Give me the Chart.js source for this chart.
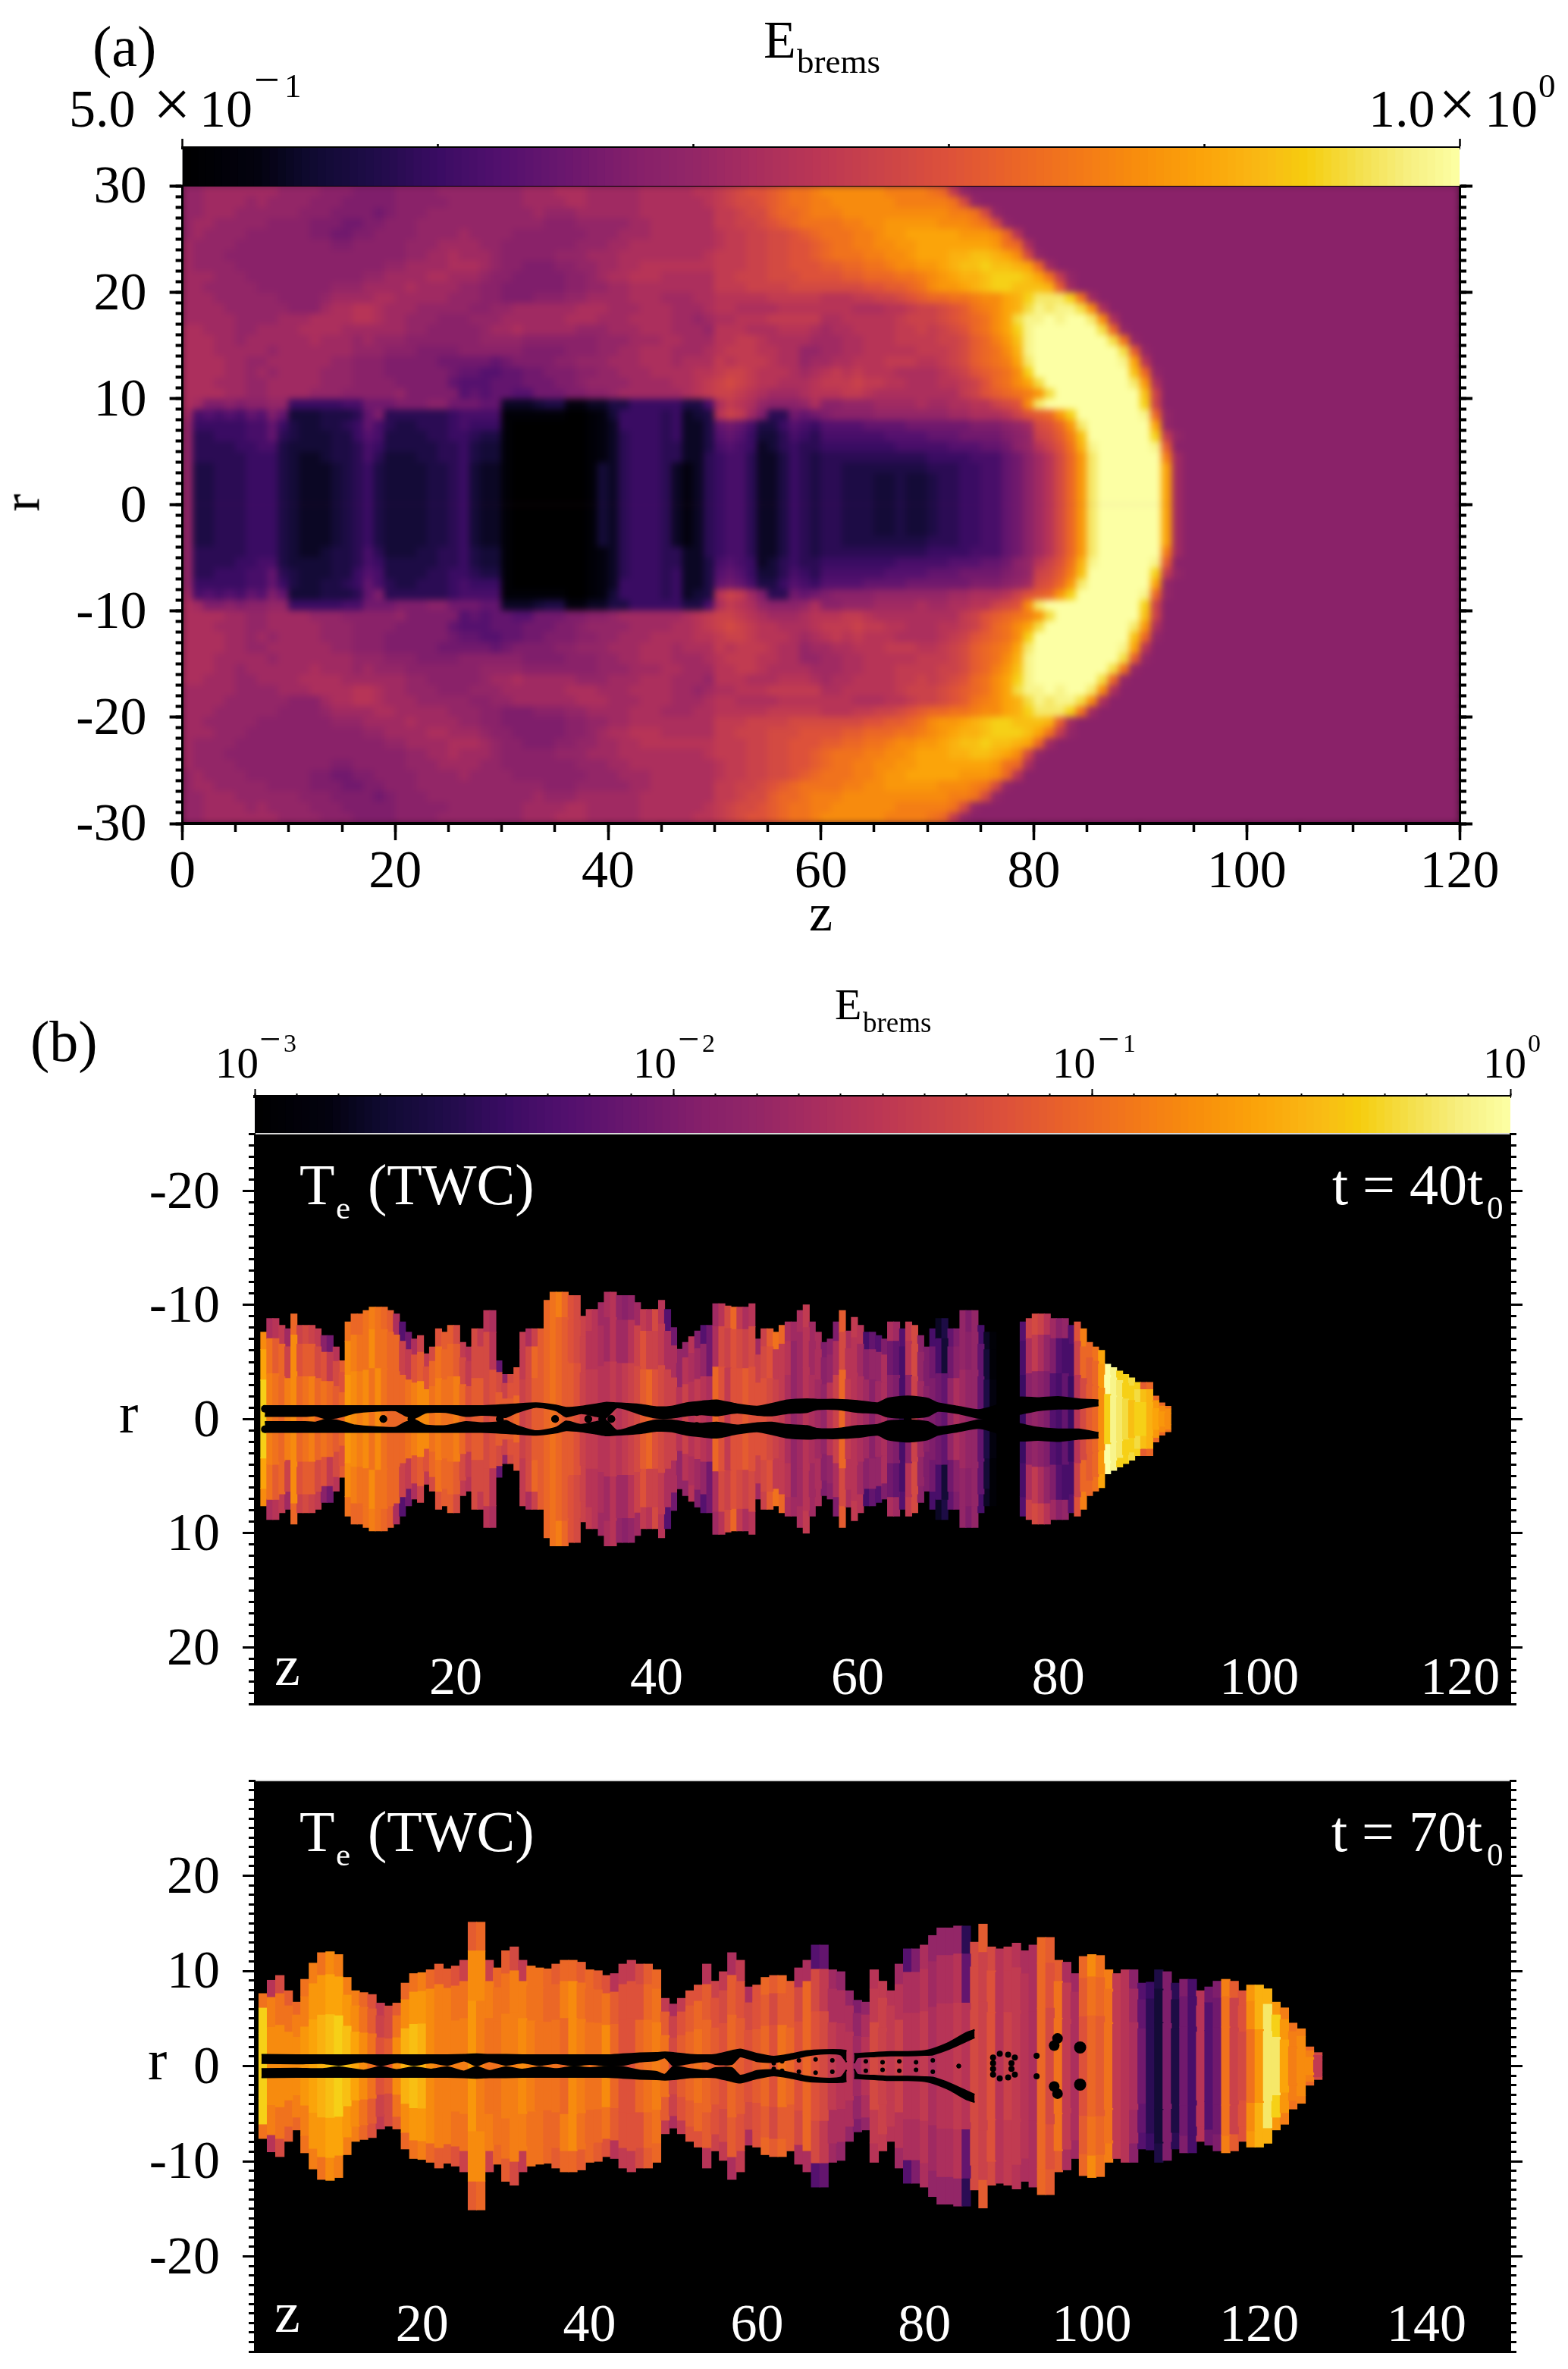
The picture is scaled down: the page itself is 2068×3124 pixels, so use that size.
<!DOCTYPE html>
<html>
<head>
<meta charset="utf-8">
<title>Ebrems</title>
<script src="https://cdn.jsdelivr.net/npm/chart.js@4/dist/chart.umd.js"></script>
<style>
html, body { margin: 0; padding: 0; background: #fff; }
#page { position: relative; width: 2068px; height: 3124px; overflow: hidden; }
#page canvas { position: absolute; left: 0; }
.txt { position: absolute; line-height: 0; white-space: nowrap; font-family: "Liberation Serif", serif; z-index: 5; }
</style>
</head>
<body>
<div id="page"></div>
<script>

// panel (a): rows from r = 29.5 down to r = 0.5, one cell per unit of z, the rest of each row is background
const fieldARows = [
  "eefffffffe eeedddcccc ddddeeeeee eefffgggff fffggggghh ijkllmnoop qqqqqqpppp onied",
  "eeffffefee eedddccccc dddddeeeee eeffffggff fffggggggh ijkklmnoop pqqqqqqppp ppoked",
  "eefffeeeee edddccccbc dddeeeeeee eeefeeefff fffggggggg iijkkmnnop ppqqqqqqqq qqppoked",
  "effeeeeedd ddcccbbccd ddeeeeeeee eeeedddeee eeffgggggg iijjklmnoo ooppqqrrrr rqqqpoked",
  "efeeeedddd ddccbbccdd ddeeeefeee edddddddee efffgggggg hiijjkklmn oooppqrrss sssrrrqnhd",
  "feeeeddddd ddddccdddd deeeffffee dddddddeee ffgggggggg hiijjkkllm nooppqqrrs ssssssrong d",
  "feeedddddd dddddddddd deeffgfffe dddddeeeff fggggggggh iiijjkkllm noooppqqrs ssttuutsqk ed",
  "feeeeddddd ddddddddde effffgggfe ddcccddeef fgghhhhhhh iiijjkklll mmnnoopqqr rstuuvuuts nfd",
  "fffeeedddd dddddddeef fffggfffed dcccccddef gghhhggggg iijjjkkkll llmmnnnoop qrsttuvvvu soied",
  "ffeeeeeddd ddddeeefff fgffffeedd ccccccddee ffgggggggg iiijjjjkkk kkkkllmmno qrrstuvvuu utmfd",
  "fffeeeeeed dddeffffgg fffffeeedd cccdddeeff ffgggfffgg hhhhhiiiii hhhiijjklm nnoopqqstv xxxvofd",
  "ffffeeeeee dddfgghhgf ffeeeeedde effffffggg fffgggfffg hhgggghhhh hhhggghhij jklmopqstw yxyywqgd",
  "fffffeeeef ffgggghhgf feeedddeee ffffffgggf ffggggffef gghhhiiiii gghhhhhijj jklmnoqswy yzyzzxqgdd",
  "ggfffeefff fggggfffff feedddddef fgfffffeee fffgggfffe hhhggghhhg fgghhhhiij ijklnoqsvy zzzzzzwned",
  "gggffeffff ffgfffefee edddddddee eeddddddde eefffggfff hhiihggggf ffgghhhiii ijjkmnpruy zzzzzzzwoe d",
  "gggfffffef ffffffeeed ddccccdddd ddccccddde effgggfffg hiiihhggee ffgghhhhhi iijkmnoqty zzzzzzzzwm ed",
  "ggggffeeff ffffeedddc ccccbbbbba bccccddeee fffgggfggg ihiiihggef fgghhhiiih hijkmnopsx zzzzzzzzys hd",
  "ggggffefef fffeeedddc cccccbaa99 aabbcccdde efffgggghh ijjihhhgfg hihihhhggg ghijlmnoqv zzzzzzzzzu ned",
  "gggfffeeff fffeeedddd ccccca999a aabbbccdee eeffffgghi jkjihhgggh iiijiihhgg ghhijlnoqs wzzzzzzzzx rgd",
  "ggggffeeff ffeeeddddd eccccc9a9a a99bbbccdd effffffghi jjihgfffgh hhiihggggg gggijlmnop rwzzzzzzzz ujd",
  "gfccdcddee 7777788bbb cccddbbbaa 3334552233 5577777558 gihgedddeg ddeeeffffg ffgghhjklq xzzzzzzzzz vjd",
  "f89898a9ca 4445556ac6 6666678888 1111110012 4777767345 hjifc66bab cddddeeeee eeffggghjl mnrvzzzzzz yned",
  "e7777788a7 5445567a86 5566678777 1000000012 3777767335 aba8557987 9999aaaabb bbbbcccdef klnrxzzzzz zsed",
  "e6677788a6 5444557985 5556677655 1000000012 3677767335 9a97446876 8888889999 aaabbbbcde jkmpuzzzzz zvied",
  "e666677885 4444556875 5555667544 1000000012 3677766335 8987346766 7777777888 88999aabde hjlotyzzzz zymd",
  "e666667775 4334556864 4455667544 1000000012 3677766336 7886335765 6666666666 7777888abd fhknrxzzzz zzpfd",
  "e556667775 4333456754 4445567433 1000000014 3677763236 7886335765 6655555555 6667788abd fhknrxzzzz zzsfd",
  "e556667775 4333456754 4445567433 1000000014 3677763236 7886335765 6655544544 5667788abd fhknrxzzzz zzsfd",
  "e556667775 4333456754 4445567433 1000000014 3677763236 7886335765 6655544544 5667788abd fhknrxzzzz zzsfd",
  "e556667775 4333456754 4445567433 1000000014 3677763236 7886335765 6655544544 5667788abd fhknrxzzzz zzsfd"
];

// panel (b) t = 40: half height of each column (columns are 0.6 wide, starting at z = 0.6)
const heights40 = [
  7.6,8.8,8.8,8.2,7.9,9.2,8.2,8.2,8.2,7.9,
  7.3,7.3,6.3,5.1,8.5,9.2,9.2,9.5,9.8,9.8,
  9.8,9.5,9.2,8.5,7.6,7,7.3,5.7,6.3,7.9,
  7.6,8.2,8.2,6.7,6.3,7.9,7.9,9.5,9.5,5.1,
  3.9,3.9,4.5,7.6,7.9,7.9,7.9,10.4,11.1,11.1,
  11.1,10.8,10.8,9,9.6,9.6,10.2,11.1,11.1,10.8,
  10.8,10.8,10.2,9.6,9.6,9.6,10.4,9.6,8,6.1,
  6.7,7.2,7.7,8.2,8.2,10.1,10.1,9.9,9.8,9.8,
  9.8,10.1,7,7.9,7.9,7.6,8.2,8.5,8.5,9.5,
  10,8.5,7.6,6.7,7,8.5,9.5,7.7,8.9,8.2,
  7.6,7.6,7.3,7,8.5,8.5,7.9,8.5,8.2,7.3,
  6.3,7.9,8.8,8.8,7.9,7.9,9.5,9.5,9.5,8.2,
  7.6,7.6,0,0,0,0,8.5,8.8,9.2,9.2,
  9.2,8.8,8.8,8.8,8.2,8.5,7.9,6.7,6.3,6,
  4.8,4.5,4.2,3.9,3.6,3.2,3.2,3.2,2,1.4,1.1
];
const core40 = "vponpqnopn onmnrqpqoq onnnopqqop oopnlmmklm mmnjkmmnon mmljiihhih ijkmnlkjjh jhihgnlill mlllkjigef hgfehjnihg fdfgdc8djf dcbaegfeea 5200007ded c98a7hkmnq vyxwuvvtsrq";
const mid40 = "somnjqlmmk liklqpooqo onnjilmlno nnmkikkkhk jlliknmnon mlkjhhgfhf fhjljjigge hgfebgkjlk jkjkliihef hfgdegkhhf deegba8hke cb84bdedea 4100008gig ec988jnmnr zyxvvwutrqq";
const edge40 = "qghifnjkji dbhmonnopo nmg9bgjikl mmkihkihga ekligjmnop nlkjihfghe defihkh9be ehc9bfhkni ghfjmongfg ifgcdcmgih 8a9cgf9ikd c835acece8 3100009jkj hfde9lpnos zyvvwvmnnno";

// black contours at t = 40
const filaZ40 = [1,5,6,7,8,9,10,12,14,15,16,17,19,21,22.5,24,25,26,28,30,31,32.5,34,35,36,37,38.5,40,41.5,43,44.5,46,48,50,51.5,53,55,56,58,60,62,63,65,67,68,70,72,73.5,76,78,80,82,84];
const filaOut40 = [1.15,1.15,1.15,1.15,1.15,1.15,1.15,1.15,1.15,1.15,1.15,1.15,1.15,1.15,1.15,1.2,1.25,1.3,1.4,1.2,1,1.1,1.3,1.45,1.4,1.35,1.25,1.05,1.1,1.4,1.55,1.65,1.3,1.1,1.35,1.65,1.75,1.7,1.7,1.6,1.4,1.8,2,1.8,1.4,1.1,0.8,1.1,1.9,1.85,1.95,1.75,1.65];
const filaIn40 = [0.25,0.25,0.3,0.05,0.1,0.3,0.55,0.7,0.75,0.3,0.12,0.55,0.6,0.25,0.35,0.3,0.15,0.55,1.05,0.75,0.2,0.5,0.25,0.15,1,0.85,0.4,0.1,0.1,0.3,0.4,0.3,0.55,0.35,0.3,0.5,0.6,0.85,0.85,0.6,0.5,0.2,0.1,0.25,0.7,0.5,0.1,0.05,0.4,0.75,0.9,0.9,1.2];
const dotZ40 = [12.8,15.6,24.4,29.9,33.2,34.6,35.5,39,41,44,46,64,65,66,1];
const dotR40 = [0,0,0,0,0,0,0,0.7,0.5,0.6,0.7,0.5,0,0.5,0.9];

// panel (b) t = 70: half height of each column (columns are 1 wide, centred on z = 1, 2, ...)
const heights70 = [
  7.6,9,9.5,7.9,6.7,9.1,10.8,11.9,12,11.7,
  9.3,7.9,7.7,7.5,6.6,6.3,6.6,8.7,9.7,9.8,
  10.1,10.7,10.2,10.5,11.1,15.1,15.1,11.1,10.3,12.1,
  12.5,11.1,10.5,10.3,10.2,10.7,11.1,11.1,10.9,10.1,
  10,9.5,9.7,10.7,11.1,10.7,10.7,10.1,7.1,6.5,
  7.1,7.9,8.5,10.7,8.9,9.9,11.9,11.1,8.3,8.5,
  9.3,9.5,9.5,8.9,10.3,11.1,12.7,12.7,10.1,9.9,
  7.9,6.9,6.7,10.1,8.9,7.9,10.7,12.3,12.3,12.7,
  13.7,14.5,14.5,14.7,14.7,13,14.9,12.5,12.3,12.5,
  12.9,12.1,12.7,13.5,13.5,11.1,10.9,9.7,11.5,11.7,
  11.6,10.1,9.7,10.1,10.1,8.7,8.8,10.1,9.9,8.7,
  9.1,9.1,7.9,8.3,8.9,9.1,8.9,7.9,8.5,8.5,
  8.1,6.7,6.1,4.5,3.9,2,1.4
];
const core70 = "vqqqqrstuv usqolmqtut qpppprpoop pqpooonqpo oqnllnopok mnonmlnmlm nlonlnlkih hfhkjijhhi ghhihkjlhj ihgnkoigln moihgb64c5 b8h9bojkor xxspqqi";
const mid70 = "vpoopprrss rqomjkoqrr qppooqqpoo ppoonnpqon nomlllnomj lmnmlkmlkl mkmmknkigg gegijihggh fgghakjlhi ihgnloigmo noihfa64c5 b8h9bojlqt xvrpqpi";
const edge70 = "ohkmnopoqp ppnlikmnop nmmljmnjnm kioonmnnmn mlhiikmnig illhjigigl nmnmgg9afe ecehihf9cg eeee6kmkhi hggnmmgfnq opihd975c6 c8hbcpmlrt trpopnk";

// black contours at t = 70, two stretches
const filaZ70 = [0.8,5,8,10,13,15,17,19,21,23,25,26.5,28,30,32,34,36,38,40,42,44,46,48,49,50,52,54,55,57,58,60,62,64,66,68,70,70.7];
const filaOut70 = [1.2,1.15,1.15,1.15,1.15,1.15,1.15,1.15,1.15,1.15,1.2,1.25,1.2,1.2,1.15,1.15,1.15,1.15,1.15,1.15,1.25,1.35,1.4,1.45,1.4,1.2,1.15,1.2,1.6,1.75,1.3,1,1.25,1.6,1.7,1.7,1.6];
const filaIn70 = [0.3,0.25,0.3,0.1,0.45,0.05,0.4,0.1,0.35,0.1,0.55,0.05,0.5,0.1,0.35,0.1,0.3,0.05,0.2,0.05,0.1,0.45,0.6,0.9,0.05,0.3,0.5,0.2,0.2,1,0.5,0.4,0.7,1.1,1.3,1.2,0.4];
const filaZ70b = [71.6,72,74,76,78,80,81,83,85,86];
const filaOut70b = [1.3,1.3,1.4,1.5,1.5,1.6,1.8,2.5,3.5,3.8];
const filaIn70b = [0.3,0.9,1,1.1,1.1,1.15,1.2,1.8,2.6,3];
const dotZ70 = [84.1,88.2,88.2,89,90,90.8,90.4,93.4,95.5,95.9,98.6,62,63,65,67,69,73,75,77,79,81];
const dotR70 = [0,0.9,0.3,1.3,1.2,0.9,0.3,1.07,2.15,2.9,1.95,0.3,0.5,0.6,0.7,0.6,0.5,0.4,0.5,0.4,0.6];
const blobR70 = [3,4,4,4,4,4,4,4,7,7,8,3,3,3,3,3,3,3,3,3,3];

// axis ticks
const zTicksA = [0,20,40,60,80,100,120];
const rTicksA = [-30,-20,-10,0,10,20,30];
const zTicks40 = [0,20,40,60,80,100,120];
const rTicks40 = [-20,-10,0,10,20];
const zTicks70 = [0,20,40,60,80,100,120,140];
const rTicks70 = [-20,-10,0,10,20];

// inferno-like map, sampled from the colour bar
const mapStops = [
  [0,"#000000"],[0.06,"#03020f"],[0.1,"#0f0a30"],[0.15,"#1f0c48"],[0.2,"#3a0c63"],[0.25,"#52106e"],
  [0.3,"#6a176e"],[0.357,"#86206a"],[0.4,"#932667"],[0.44,"#a52c60"],[0.5,"#bc3754"],[0.55,"#cc4448"],
  [0.6,"#dd513a"],[0.65,"#ea6428"],[0.7,"#f37819"],[0.75,"#f88e0c"],[0.8,"#fba40a"],[0.85,"#f9bb15"],
  [0.88,"#f6cd0e"],[0.92,"#f4df4a"],[0.96,"#f7ef80"],[1,"#fcffa4"]
];

function mapColor(f) {
  f = Math.max(0, Math.min(1, f));
  let i = 1;
  while (i < mapStops.length - 1 && mapStops[i][0] < f) i++;
  const a = mapStops[i - 1], b = mapStops[i];
  const t = (f - a[0]) / (b[0] - a[0]);
  const mix = s => {
    const p = parseInt(a[1].substr(s, 2), 16), q = parseInt(b[1].substr(s, 2), 16);
    return Math.round(p + (q - p) * t);
  };
  return `rgb(${mix(1)},${mix(3)},${mix(5)})`;
}

const levelColor = c => mapColor(parseInt(c, 36) / 35);
const clean = s => s.replace(/ /g, "");

function tickAxis(o) {
  return {
    type: "linear", axis: o.axis, position: o.pos, min: o.min, max: o.max, reverse: !!o.reverse,
    offset: false, weight: o.size ? 1 : 0,
    grid: { display: true, offset: false, drawOnChartArea: false, drawTicks: !!o.len, tickLength: o.len || 0, tickWidth: o.width || 3, tickColor: "#000" },
    border: { display: !!o.border, color: o.border, width: o.borderWidth || 3 },
    ticks: {
      display: !!o.font, autoSkip: false, maxRotation: 0, padding: o.pad || 0, mirror: !!o.mirror, z: 1,
      labelOffset: o.shift || 0,
      color: o.color || "#000", font: { family: '"Liberation Serif"', size: o.font || 12 },
      callback: v => (o.noZero && v === 0 ? "" : String(v))
    },
    afterBuildTicks: s => { s.ticks = o.values.map(v => ({ value: v })); },
    afterFit: s => {
      if (o.axis === "x") s.height = o.size || 0; else s.width = o.size || 0;
      s.paddingLeft = s.paddingRight = s.paddingTop = s.paddingBottom = 0;
    }
  };
}

const plotBackground = (color, whole) => ({
  id: "plotBackground",
  beforeDraw(chart) {
    const a = chart.chartArea;
    chart.ctx.fillStyle = color;
    if (whole) chart.ctx.fillRect(0, 0, chart.width, chart.height);
    else chart.ctx.fillRect(a.left, a.top, a.right - a.left, a.bottom - a.top);
  }
});

const page = document.getElementById("page");

function addChart(top, height, datasets, scales, plugin, cssExtra) {
  const canvas = document.createElement("canvas");
  canvas.width = 2068;
  canvas.height = height;
  canvas.style.top = top + "px";
  if (cssExtra) Object.assign(canvas.style, cssExtra);
  page.appendChild(canvas);
  return new Chart(canvas.getContext("2d"), {
    type: "bar",
    data: { datasets },
    options: {
      responsive: false, animation: false, events: [], devicePixelRatio: 1,
      layout: { padding: 0 },
      plugins: { legend: { display: false }, tooltip: { enabled: false } },
      scales
    },
    plugins: plugin ? [plugin] : []
  });
}

function cells(points, colors) {
  return {
    type: "bar", data: points, backgroundColor: colors, borderWidth: 0, inflateAmount: 0.6,
    grouped: false, barPercentage: 1, categoryPercentage: 1, order: 5, xAxisID: "x", yAxisID: "y"
  };
}

function filament(zs, outer, inner, sign) {
  const line = (vals, extra) => Object.assign({
    type: "line", data: zs.map((z, i) => ({ x: z, y: sign * vals[i] })), borderColor: "#000", backgroundColor: "#000",
    borderWidth: 2, pointRadius: 0, tension: 0.2, order: 1, xAxisID: "x", yAxisID: "y"
  }, extra);
  return [line(outer, { fill: "+1" }), line(inner, { fill: false })];
}

function dots(zs, rs, radius) {
  const pts = [], sizes = [];
  zs.forEach((z, i) => {
    pts.push({ x: z, y: rs[i] }, { x: z, y: -rs[i] });
    const s = Array.isArray(radius) ? radius[i] : radius;
    sizes.push(s, s);
  });
  return {
    type: "line", data: pts, showLine: false, pointRadius: sizes, pointBackgroundColor: "#000", pointBorderWidth: 0,
    order: 0, xAxisID: "x", yAxisID: "y"
  };
}

function range(a, b, step) {
  const out = [];
  for (let v = a; v <= b + 1e-9; v += step) out.push(Math.round(v * 100) / 100);
  return out;
}

/* ---------- panel (a) ---------- */
const aDatasets = [];
fieldARows.forEach((row, i) => {
  const s = clean(row).padEnd(120, "d");
  const r = 29.5 - i;
  const colors = [], up = [], down = [];
  for (let k = 0; k < 120; k++) {
    colors.push(levelColor(s[k]));
    up.push({ x: k + 0.5, y: [r - 0.5, r + 0.5] });
    down.push({ x: k + 0.5, y: [-r - 0.5, -r + 0.5] });
  }
  aDatasets.push(cells(up, colors), cells(down, colors));
});
const aScales = () => ({
  x: tickAxis({ axis: "x", pos: "bottom", min: 0, max: 120, values: zTicksA, size: 214, len: 22, width: 3.5, font: 70, pad: 2, border: "#000", borderWidth: 4 }),
  xMinor: tickAxis({ axis: "x", pos: "bottom", min: 0, max: 120, values: range(0, 120, 5), len: 11, width: 3.5 }),
  xTop: tickAxis({ axis: "x", pos: "top", min: 0, max: 120, values: [], size: 245, border: "#000", borderWidth: 2 }),
  y: tickAxis({ axis: "y", pos: "left", min: -30, max: 30, values: rTicksA, size: 240.6, len: 17, width: 4, font: 70, pad: 30, shift: 4, border: "#000", borderWidth: 3 }),
  yMinor: tickAxis({ axis: "y", pos: "left", min: -30, max: 30, values: range(-30, 30, 1), len: 9, width: 4 }),
  yRight: tickAxis({ axis: "y", pos: "right", min: -30, max: 30, values: rTicksA, size: 143, len: 17, width: 4, border: "#000", borderWidth: 3 }),
  yRightMinor: tickAxis({ axis: "y", pos: "right", min: -30, max: 30, values: range(-30, 30, 1), len: 9, width: 4 })
});
// the field is shown smoothed in the original, so the cells get a small blur and the axes go on a second canvas
addChart(0, 1300, aDatasets, aScales(), plotBackground("#8c2369", true), {
  filter: "blur(4px)", clipPath: "inset(245px 143px 214px 241px)"
});
addChart(0, 1300, [], aScales());

/* ---------- colour bars ---------- */
function colorBar(top, height, barTop, barBottom, left, right, min, max, longTicks, shortTicks, longLen, shortLen, tickW, lineW) {
  const n = 160, pts = [], colors = [];
  for (let i = 0; i < n; i++) {
    pts.push({ x: min + (max - min) * (i + 0.5) / n, y: [0, 1] });
    colors.push(mapColor((i + 0.5) / n));
  }
  addChart(top, height, [cells(pts, colors)], {
    x: tickAxis({ axis: "x", pos: "top", min, max, values: longTicks, size: barTop - top, len: longLen, width: tickW, border: "#000", borderWidth: lineW }),
    xMinor: tickAxis({ axis: "x", pos: "top", min, max, values: shortTicks, len: shortLen, width: tickW }),
    xBottom: tickAxis({ axis: "x", pos: "bottom", min, max, values: [], size: top + height - barBottom }),
    y: tickAxis({ axis: "y", pos: "left", min: 0, max: 1, values: [], size: left }),
    yRight: tickAxis({ axis: "y", pos: "right", min: 0, max: 1, values: [], size: 2068 - right })
  });
}
colorBar(100, 200, 195, 245, 240.6, 1925, 0, 1, [0, 1], [0.2, 0.4, 0.6, 0.8], 12, 5, 2.5, 4);
colorBar(1400, 150, 1446, 1494, 336, 1992, -3, 0, [-3, -2, -1, 0], range(-3, 0, 0.1), 10, 4, 2, 4);

/* ---------- panels (b) ---------- */
function columnDatasets(heights, core, mid, edge, zAt) {
  const coreS = clean(core), midS = clean(mid), edgeS = clean(edge);
  const inner = [], midUp = [], midLow = [], outUp = [], outLow = [];
  const innerC = [], midC = [], edgeC = [];
  heights.forEach((h, k) => {
    if (!h) return;
    const z = zAt(k), a = 0.45 * h, b = 0.8 * h;
    inner.push({ x: z, y: [-a, a] });
    midUp.push({ x: z, y: [a, b] });
    midLow.push({ x: z, y: [-b, -a] });
    outUp.push({ x: z, y: [b, h] });
    outLow.push({ x: z, y: [-h, -b] });
    innerC.push(levelColor(coreS[k]));
    midC.push(levelColor(midS[k]));
    edgeC.push(levelColor(edgeS[k]));
  });
  return [cells(inner, innerC), cells(midUp, midC), cells(midLow, midC), cells(outUp, edgeC), cells(outLow, edgeC)];
}

function panelB(top, height, plotTop, plotBottom, rMax, flip, zMax, zTicks, rTicks, datasets) {
  const r = { min: -rMax, max: rMax, reverse: flip };
  addChart(top, height, datasets, {
    x: tickAxis({ axis: "x", pos: "bottom", min: 0, max: zMax, values: zTicks, size: top + height - plotBottom, font: 70, color: "#fff", mirror: true, pad: -10, noZero: true, border: "#000", borderWidth: 3 }),
    xTop: tickAxis({ axis: "x", pos: "top", min: 0, max: zMax, values: [], size: plotTop - top, border: "#d8d8d8", borderWidth: 2 }),
    y: tickAxis(Object.assign({ axis: "y", pos: "left", values: rTicks, size: 336, len: 16, width: 3, font: 70, pad: 30, shift: 4, border: "#000", borderWidth: 2 }, r)),
    yMinor: tickAxis(Object.assign({ axis: "y", pos: "left", values: range(-rMax, rMax, 1), len: 8, width: 3 }, r)),
    yRight: tickAxis(Object.assign({ axis: "y", pos: "right", values: rTicks, size: 76, len: 16, width: 3, border: "#000", borderWidth: 2 }, r)),
    yRightMinor: tickAxis(Object.assign({ axis: "y", pos: "right", values: range(-rMax, rMax, 1), len: 8, width: 3 }, r))
  }, plotBackground("#000"));
}

panelB(1300, 1000, 1495, 2247.5, 25, true, 125, zTicks40, rTicks40, [
  ...columnDatasets(heights40, core40, mid40, edge40, k => 0.9 + 0.6 * k),
  ...filament(filaZ40, filaOut40, filaIn40, 1),
  ...filament(filaZ40, filaOut40, filaIn40, -1),
  dots(dotZ40, dotR40, 5)
]);

panelB(2300, 824, 2348, 3101, 30, false, 150, zTicks70, rTicks70, [
  ...columnDatasets(heights70, core70, mid70, edge70, k => k + 1),
  ...filament(filaZ70, filaOut70, filaIn70, 1),
  ...filament(filaZ70, filaOut70, filaIn70, -1),
  ...filament(filaZ70b, filaOut70b, filaIn70b, 1),
  ...filament(filaZ70b, filaOut70b, filaIn70b, -1),
  dots(dotZ70, dotR70, blobR70)
]);

/* ---------- text ---------- */
function put(html, x, baseline, size, color, extra) {
  const el = document.createElement("div");
  el.className = "txt";
  el.innerHTML = html;
  el.style.left = x + "px";
  el.style.top = (baseline - 0.3375 * size) + "px";
  el.style.fontSize = size + "px";
  el.style.color = color || "#000";
  if (extra) Object.assign(el.style, extra);
  page.appendChild(el);
}

put("(a)", 122, 87, 76);
put("E", 1007, 77, 70);
put("brems", 1051, 96, 45);
put("5.0", 91, 168, 70);
put("\u00d7", 202, 168, 88);
put("10", 263, 168, 70);
put("\u2212", 335, 125, 60);
put("1", 375, 128, 45);
put("1.0", 1805, 168, 70);
put("\u00d7", 1897, 168, 88);
put("10", 1958, 168, 70);
put("0", 2029, 128, 45);
put("r", 52, 675, 70, "#000", { transform: "rotate(-90deg)", transformOrigin: "0 0.3375em" });
put("z", 1067, 1228, 70);

put("(b)", 40, 1399, 76);
put("E", 1101, 1345, 58);
put("brems", 1138, 1361, 37);
put("10", 284, 1421, 57);  put("\u2212", 342, 1387, 50);  put("3", 374, 1387, 34);
put("10", 835, 1421, 57);  put("\u2212", 894, 1387, 50);  put("2", 926, 1387, 34);
put("10", 1388, 1421, 57); put("\u2212", 1448, 1387, 50); put("1", 1481, 1387, 34);
put("10", 1956, 1421, 57); put("0", 2015, 1387, 34);

put("T", 395, 1588, 76, "#fff");
put("e", 443, 1608, 43, "#fff");
put("(TWC)", 485, 1588, 76, "#fff");
put("t = 40t", 1757, 1588, 76, "#fff");
put("0", 1961, 1608, 43, "#fff");
put("r", 157, 1889, 76);
put("z", 362, 2222, 76, "#fff");

put("T", 395, 2441, 76, "#fff");
put("e", 443, 2461, 43, "#fff");
put("(TWC)", 485, 2441, 76, "#fff");
put("t = 70t", 1756, 2441, 76, "#fff");
put("0", 1961, 2461, 43, "#fff");
put("r", 195, 2742, 76);
put("z", 362, 3075, 76, "#fff");
</script>
</body>
</html>
